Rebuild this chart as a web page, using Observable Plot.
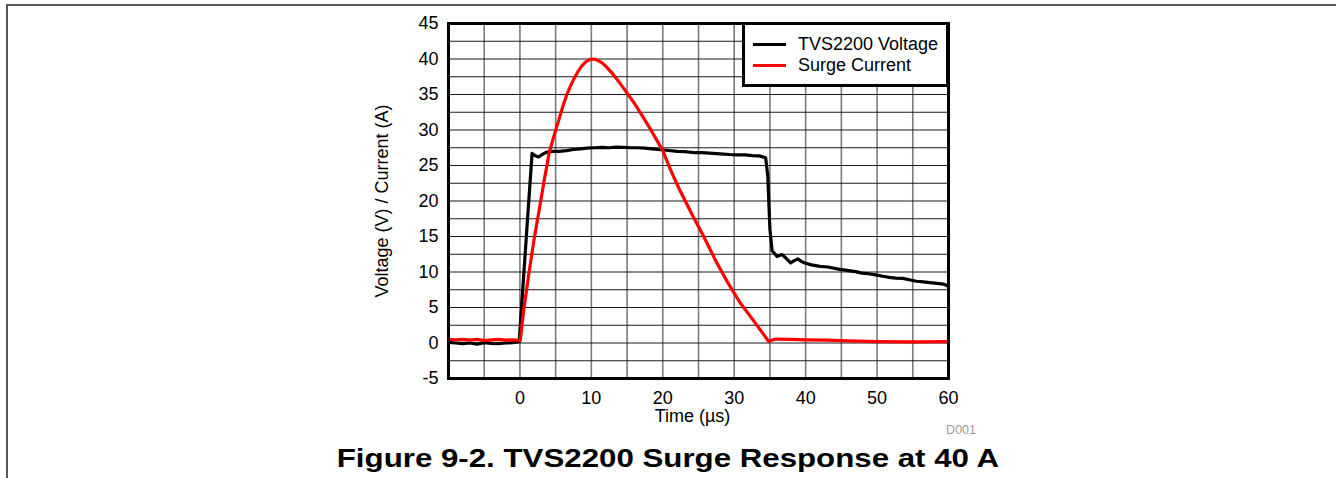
<!DOCTYPE html>
<html>
<head>
<meta charset="utf-8">
<script src="https://cdn.jsdelivr.net/npm/d3@7"></script>
<script src="https://cdn.jsdelivr.net/npm/@observablehq/plot@0.6"></script>
<style>
  html, body { margin: 0; padding: 0; background: #fff; }
  body { width: 1336px; height: 478px; overflow: hidden; font-family: "Liberation Sans", Arial, sans-serif; }
  #wrap { position: relative; width: 1336px; height: 478px; }
  #pageframe { position: absolute; left: 6px; top: 4px; width: 1400px; height: 600px; border-top: 2px solid #555; border-left: 2px solid #555; }
  #chart { position: absolute; left: 0; top: 0; }
  #legend { position: absolute; left: 742px; top: 22px; width: 207px; height: 65px; box-sizing: border-box; border: 3px solid #000; background: #fff; }
  .lrow { position: absolute; left: 0; height: 20px; font-size: 18px; line-height: 20px; color: #000; white-space: nowrap; }
  .lrow .sw { position: absolute; left: 8px; top: 9px; width: 33px; height: 3px; }
  .lrow .lt { position: absolute; left: 53px; top: 0; }
  #code { position: absolute; left: 926px; top: 423px; width: 50px; text-align: right; font-size: 12.5px; color: #9a9a9a; }
  #title { position: absolute; left: 0; width: 1336px; top: 443px; text-align: center; font-size: 25px; line-height: 30px; font-weight: bold; color: #000; }
  #title span { display: inline-block; transform: scaleX(1.25); transform-origin: 50% 50%; }
</style>
</head>
<body>
<div id="wrap">
  <div id="pageframe"></div>
  <div id="chart"></div>
  <div id="legend"></div>
  <div id="code"></div>
  <div id="title"><span></span></div>
</div>
<script>
// ---- data ----
const seriesNames = ["TVS2200 Voltage", "Surge Current"];
const seriesColors = ["#000000", "#ff0000"];

const voltageTime = [-10, -9, -8, -7, -6, -5, -4, -3, -2, -1, -0.1, 0.5, 1.0, 1.7, 2.1, 2.6, 3.2, 3.8, 4.6, 5.5, 6.5, 7.5, 8.5, 9.3, 10.5, 11.5, 12.5, 13.5, 14.5, 15.5, 16.5, 17.5, 18.5, 19.3, 20.5, 22, 23, 24.6, 25.5, 27, 28, 29.3, 30.5, 31.5, 32.5, 33.5, 34.4, 34.7, 35.0, 35.3, 36.0, 36.7, 37.3, 37.9, 38.4, 38.9, 39.4, 39.8, 40.8, 42.0, 43.1, 44.6, 46.0, 47.0, 47.9, 48.8, 49.8, 50.8, 51.7, 52.6, 53.6, 54.5, 55.5, 56.5, 57.4, 58.4, 59.3, 60];
const voltageValue = [0.1, 0.0, -0.1, 0.0, -0.15, 0.05, -0.05, -0.1, 0.0, 0.05, 0.2, 9.1, 16.5, 26.7, 26.4, 26.2, 26.6, 26.9, 27.0, 27.0, 27.1, 27.25, 27.35, 27.45, 27.5, 27.55, 27.5, 27.6, 27.55, 27.5, 27.5, 27.45, 27.35, 27.25, 27.15, 27.0, 26.95, 26.8, 26.8, 26.7, 26.65, 26.55, 26.5, 26.5, 26.4, 26.35, 26.1, 23.5, 16.0, 13.0, 12.2, 12.45, 11.9, 11.3, 11.6, 11.85, 11.5, 11.3, 11.0, 10.8, 10.7, 10.4, 10.2, 10.05, 9.85, 9.75, 9.6, 9.4, 9.25, 9.15, 9.1, 8.9, 8.7, 8.6, 8.5, 8.4, 8.3, 8.0];

const currentTime = [-10, -9, -8, -7, -6, -5, -4, -3, -2, -1, 0.05, 0.52, 1.24, 1.95, 2.67, 3.38, 4.1, 4.95, 5.5, 6, 6.5, 7, 7.5, 8, 8.5, 9, 9.5, 10, 10.5, 11, 11.5, 12, 13, 14, 15, 16, 17, 18.4, 20, 21, 22.2, 24.1, 25.8, 27.4, 29.1, 30.8, 32.7, 34.8, 35.8, 38, 40, 43, 46, 50, 55, 60];
const currentValue = [0.5, 0.45, 0.5, 0.4, 0.5, 0.35, 0.45, 0.5, 0.4, 0.45, 0.35, 4.55, 9.7, 14.4, 18.6, 22.8, 26.8, 29.8, 31.6, 33.3, 34.8, 36.0, 37.1, 38.0, 38.8, 39.4, 39.8, 40.0, 39.95, 39.75, 39.45, 39.0, 37.9, 36.6, 35.2, 33.8, 32.2, 29.9, 27.1, 24.6, 21.9, 18.1, 14.85, 11.6, 8.5, 5.7, 3.15, 0.24, 0.55, 0.5, 0.45, 0.4, 0.3, 0.2, 0.15, 0.2];

const xTicks = [0, 10, 20, 30, 40, 50, 60];
const yTicks = [-5, 0, 5, 10, 15, 20, 25, 30, 35, 40, 45];
const xGrid = [-5, 0, 5, 10, 15, 20, 25, 30, 35, 40, 45, 50, 55];
const yGrid = [-2.5, 0, 2.5, 5, 7.5, 10, 12.5, 15, 17.5, 20, 22.5, 25, 27.5, 30, 32.5, 35, 37.5, 40, 42.5];
const xDomain = [-10, 60];
const yDomain = [-5, 45];

const xLabel = "Time (µs)";
const yLabel = "Voltage (V) / Current (A)";
const figureCode = "D001";
const figureTitle = "Figure 9-2. TVS2200 Surge Response at 40 A";

// ---- build ----
const voltage = voltageTime.map((t, i) => ({t, v: voltageValue[i]}));
const current = currentTime.map((t, i) => ({t, v: currentValue[i]}));
const font = "'Liberation Sans', Arial, sans-serif";

const chart = Plot.plot({
  width: 1336,
  height: 436,
  marginLeft: 448,
  marginRight: 388,
  marginTop: 23,
  marginBottom: 58,
  style: {fontFamily: font, fontSize: "18px", color: "#000", background: "transparent"},
  x: {domain: xDomain},
  y: {domain: yDomain},
  marks: [
    Plot.ruleX(xGrid, {x: d => d, stroke: "#7a7a7a", strokeWidth: 1.6}),
    Plot.ruleY(yGrid, {y: d => d, stroke: "#1a1a1a", strokeWidth: 1.1}),
    Plot.line(voltage, {x: "t", y: "v", stroke: seriesColors[0], strokeWidth: 3.2, strokeLinejoin: "round"}),
    Plot.line(current, {x: "t", y: "v", stroke: seriesColors[1], strokeWidth: 3.2, strokeLinejoin: "round"}),
    Plot.frame({stroke: "#000", strokeWidth: 3}),
    Plot.axisX(xTicks, {tickSize: 0, tickPadding: 13, fontSize: 18, label: null, tickFormat: d => String(d)}),
    Plot.axisY(yTicks, {tickSize: 0, tickPadding: 10, fontSize: 18, label: null, tickFormat: d => String(d)}),
    Plot.text([xLabel], {text: d => d, frameAnchor: "bottom", dx: -6, dy: 38, fontSize: 18, textAnchor: "middle", lineAnchor: "middle"}),
    Plot.text([yLabel], {text: d => d, frameAnchor: "left", dx: -66, rotate: -90, fontSize: 18, textAnchor: "middle", lineAnchor: "middle"})
  ]
});
document.getElementById("chart").appendChild(chart);

const legend = document.getElementById("legend");
seriesNames.forEach((name, i) => {
  const row = document.createElement("div");
  row.className = "lrow";
  row.style.top = (9 + i * 21) + "px";
  row.innerHTML = `<span class="sw" style="background:${seriesColors[i]}"></span><span class="lt"></span>`;
  row.querySelector(".lt").textContent = name;
  legend.appendChild(row);
});
document.getElementById("code").textContent = figureCode;
document.querySelector("#title span").textContent = figureTitle;
</script>
</body>
</html>
